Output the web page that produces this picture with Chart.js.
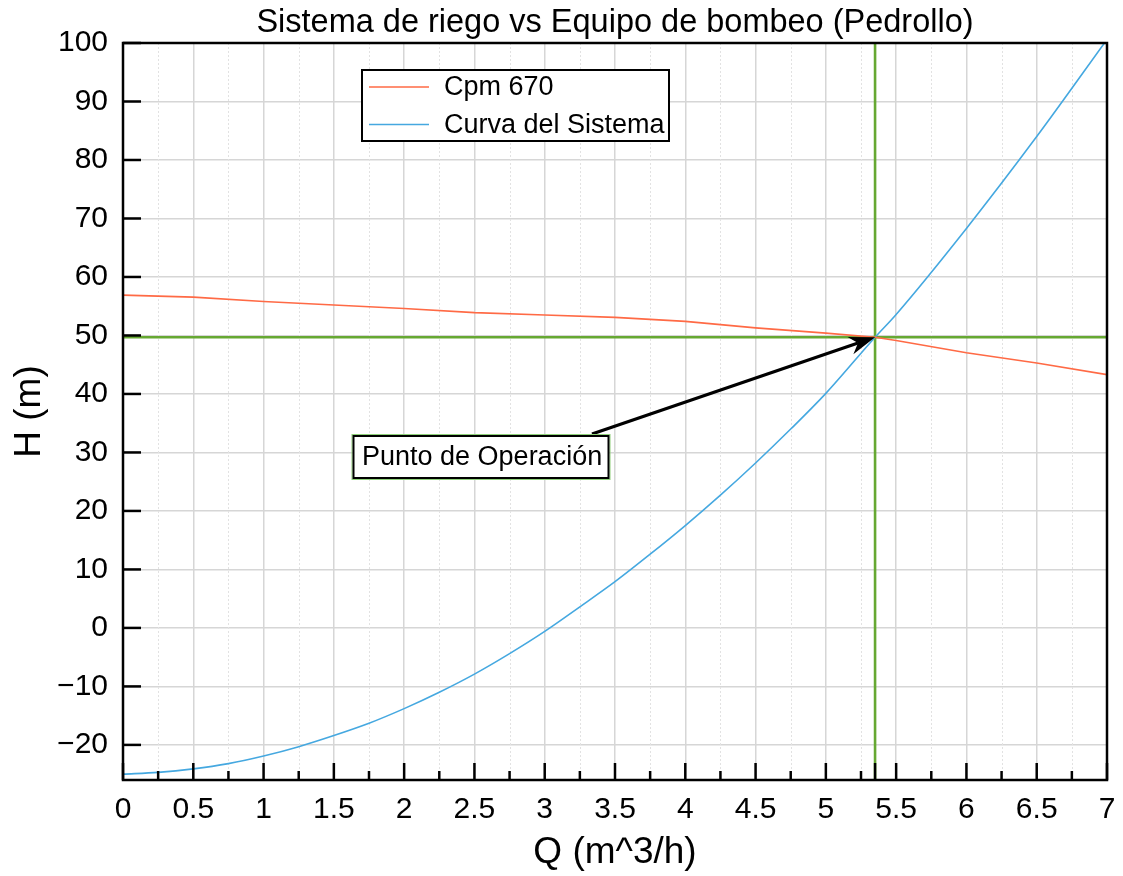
<!DOCTYPE html>
<html><head><meta charset="utf-8">
<style>html,body{margin:0;padding:0;background:#fff;}#wrap{width:1123px;height:876px;}</style>
<script src="https://cdn.jsdelivr.net/npm/chart.js@4.4.0/dist/chart.umd.min.js"></script>
</head><body><div id="wrap"><canvas id="c" width="1123" height="876"></canvas></div>
<script>
// ---- data ----
const qPump = [0, 0.5, 1, 1.5, 2, 2.5, 3, 3.5, 4, 4.5, 5, 5.35, 5.5, 6, 6.5, 7];
const hPump = [56.9, 56.55, 55.8, 55.2, 54.6, 53.9, 53.5, 53.1, 52.4, 51.3, 50.4, 49.7, 49.15, 47.05, 45.3, 43.3];
const qSystem = [0, 0.25, 0.5, 0.75, 1, 1.25, 1.5, 1.75, 2, 2.25, 2.5, 2.75, 3, 3.25, 3.5, 3.75, 4, 4.25, 4.5, 4.75, 5, 5.35, 5.5, 6, 6.5, 7];
const hSystem = [-25, -24.7, -24.1, -23.2, -21.9, -20.3, -18.4, -16.3, -13.8, -11, -7.9, -4.4, -0.6, 3.6, 7.9, 12.6, 17.5, 22.7, 28.2, 34.0, 40.1, 49.7, 53.6, 68.3, 84.0, 100.6];
const opQ = 5.35;
const opH = 49.7;
const xMajorTicks = [0, 0.5, 1, 1.5, 2, 2.5, 3, 3.5, 4, 4.5, 5, 5.5, 6, 6.5, 7];
const xTickLabels = ['0', '0.5', '1', '1.5', '2', '2.5', '3', '3.5', '4', '4.5', '5', '5.5', '6', '6.5', '7'];
const xMinorTicks = [0.25, 0.75, 1.25, 1.75, 2.25, 2.75, 3.25, 3.75, 4.25, 4.75, 5.25, 5.75, 6.25, 6.75];
const yTicks = [-20, -10, 0, 10, 20, 30, 40, 50, 60, 70, 80, 90, 100];
const yTickLabels = ['\u221220', '\u221210', '0', '10', '20', '30', '40', '50', '60', '70', '80', '90', '100'];
const seriesNames = ['Cpm 670', 'Curva del Sistema'];
const titleText = 'Sistema de riego vs Equipo de bombeo (Pedrollo)';
const xTitle = 'Q (m^3/h)';
const yTitle = 'H (m)';
const noteText = 'Punto de Operaci\u00f3n';

// ---- style ----
const FONT = "'Liberation Sans', Arial, Helvetica, sans-serif";
const C_ORANGE = '#ff6a45';
const C_BLUE = '#45a8e0';
const C_GREEN = '#66a832';

const toXY = (xs, ys) => xs.map((x, i) => ({x: x, y: ys[i]}));

const decor = {
  id: 'decor',
  beforeDatasetsDraw(chart) {
    const {ctx, chartArea: a, scales: {x}} = chart;
    ctx.save();
    ctx.strokeStyle = '#e2e2e2';
    ctx.lineWidth = 1;
    ctx.setLineDash([2, 2]);
    xMinorTicks.forEach(v => {
      const px = Math.round(x.getPixelForValue(v)) + 0.5;
      ctx.beginPath(); ctx.moveTo(px, a.top); ctx.lineTo(px, a.bottom); ctx.stroke();
    });
    ctx.restore();
  },
  afterDatasetsDraw(chart) {
    const {ctx, chartArea: a, scales: {x, y}} = chart;
    ctx.save();
    ctx.strokeStyle = '#000';
    ctx.lineWidth = 2.5;
    ctx.lineCap = 'butt';
    yTicks.forEach(v => {
      const py = y.getPixelForValue(v);
      ctx.beginPath(); ctx.moveTo(a.left, py); ctx.lineTo(a.left + 18, py); ctx.stroke();
    });
    xMajorTicks.concat([opQ]).forEach(v => {
      const px = x.getPixelForValue(v);
      ctx.beginPath(); ctx.moveTo(px, a.bottom); ctx.lineTo(px, a.bottom - 17); ctx.stroke();
    });
    xMinorTicks.forEach(v => {
      const px = x.getPixelForValue(v);
      ctx.beginPath(); ctx.moveTo(px, a.bottom); ctx.lineTo(px, a.bottom - 9); ctx.stroke();
    });
    ctx.lineWidth = 2.5;
    ctx.strokeRect(a.left, a.top, a.right - a.left, a.bottom - a.top);

    // legend
    const L = {x: 362, y: 70, w: 307, h: 71};
    ctx.fillStyle = '#fff';
    ctx.fillRect(L.x, L.y, L.w, L.h);
    ctx.lineWidth = 2;
    ctx.strokeStyle = '#000';
    ctx.strokeRect(L.x, L.y, L.w, L.h);
    const rows = [[seriesNames[0], C_ORANGE, 87], [seriesNames[1], C_BLUE, 124.5]];
    ctx.font = '27px ' + FONT;
    ctx.textBaseline = 'middle';
    ctx.textAlign = 'left';
    rows.forEach(([t, c, ry]) => {
      ctx.strokeStyle = c; ctx.lineWidth = 1.6;
      ctx.beginPath(); ctx.moveTo(369, ry); ctx.lineTo(429, ry); ctx.stroke();
      ctx.fillStyle = '#000';
      ctx.fillText(t, 444, ry + 1);
    });

    // arrow
    const tipX = x.getPixelForValue(opQ), tipY = y.getPixelForValue(opH);
    const tailX = 592, tailY = 434;
    const ang = Math.atan2(tipY - tailY, tipX - tailX);
    const hl = 26, hw = 9, ind = 8;
    ctx.strokeStyle = '#000'; ctx.fillStyle = '#000';
    ctx.lineWidth = 3.2;
    ctx.beginPath(); ctx.moveTo(tailX, tailY);
    ctx.lineTo(tipX - Math.cos(ang) * (hl - ind), tipY - Math.sin(ang) * (hl - ind)); ctx.stroke();
    const bx = tipX - Math.cos(ang) * hl, by = tipY - Math.sin(ang) * hl;
    const nx = -Math.sin(ang), ny = Math.cos(ang);
    ctx.beginPath();
    ctx.moveTo(tipX, tipY);
    ctx.lineTo(bx + nx * hw, by + ny * hw);
    ctx.lineTo(tipX - Math.cos(ang) * (hl - ind), tipY - Math.sin(ang) * (hl - ind));
    ctx.lineTo(bx - nx * hw, by - ny * hw);
    ctx.closePath(); ctx.fill();

    // text box
    const B = {x: 353, y: 435.5, w: 256, h: 43};
    ctx.fillStyle = '#fff';
    ctx.fillRect(B.x, B.y, B.w, B.h);
    ctx.strokeStyle = '#8fd07a'; ctx.lineWidth = 1;
    ctx.strokeRect(B.x - 1, B.y - 1, B.w + 2, B.h + 2);
    ctx.strokeStyle = '#000'; ctx.lineWidth = 2;
    ctx.strokeRect(B.x + 0.5, B.y + 0.5, B.w - 1, B.h - 1);
    ctx.fillStyle = '#000';
    ctx.font = '27px ' + FONT;
    ctx.textBaseline = 'middle';
    ctx.fillText(noteText, 362, B.y + B.h / 2 + 1);
    ctx.restore();
  }
};

new Chart(document.getElementById('c'), {
  type: 'line',
  data: {
    datasets: [
      {label: seriesNames[0], data: toXY(qPump, hPump), borderColor: C_ORANGE, borderWidth: 1.6, pointRadius: 0, tension: 0, order: 1},
      {label: seriesNames[1], data: toXY(qSystem, hSystem), borderColor: C_BLUE, borderWidth: 1.6, pointRadius: 0, cubicInterpolationMode: 'monotone', order: 1},
      {label: 'h-op', data: toXY([0, 7], [opH, opH]), borderColor: C_GREEN, borderWidth: 2.6, pointRadius: 0, order: 5},
      {label: 'q-op', data: toXY([opQ, opQ], [-26, 100]), borderColor: C_GREEN, borderWidth: 2.6, pointRadius: 0, order: 5}
    ]
  },
  options: {
    responsive: false,
    devicePixelRatio: 1,
    animation: false,
    layout: {padding: {left: 0, right: 16, top: 0, bottom: 0}},
    plugins: {
      legend: {display: false},
      tooltip: {enabled: false},
      title: {display: true, text: titleText, fullSize: false, color: '#000',
        font: {family: FONT, size: 32.5, weight: 'normal'}, padding: {top: 4, bottom: 0}}
    },
    scales: {
      x: {
        type: 'linear', min: 0, max: 7, position: 'bottom',
        afterBuildTicks: s => { s.ticks = xMajorTicks.map(v => ({value: v})); },
        afterFit: s => { s.height = 96; s.paddingLeft = 0; s.paddingRight = 0; },
        ticks: {autoSkip: false, maxRotation: 0, color: '#000', padding: 12,
          font: {family: FONT, size: 30},
          callback: (v, i) => xTickLabels[i]},
        grid: {color: '#d6d6d6', lineWidth: 1.5, drawTicks: false},
        border: {display: false},
        title: {display: true, text: xTitle, color: '#000', font: {family: FONT, size: 37}, padding: {top: 0, bottom: 1}}
      },
      y: {
        type: 'linear', min: -26, max: 100,
        afterBuildTicks: s => { s.ticks = yTicks.map(v => ({value: v})); },
        afterFit: s => { s.width = 123; s.paddingTop = 0; s.paddingBottom = 0; },
        ticks: {autoSkip: false, color: '#000', padding: 15,
          font: {family: FONT, size: 30},
          callback: (v, i) => yTickLabels[i]},
        grid: {color: '#d6d6d6', lineWidth: 1.5, drawTicks: false},
        border: {display: false},
        title: {display: true, text: yTitle, color: '#000', font: {family: FONT, size: 37}, padding: {top: 8, bottom: 0}}
      }
    }
  },
  plugins: [decor]
});
</script></body></html>
